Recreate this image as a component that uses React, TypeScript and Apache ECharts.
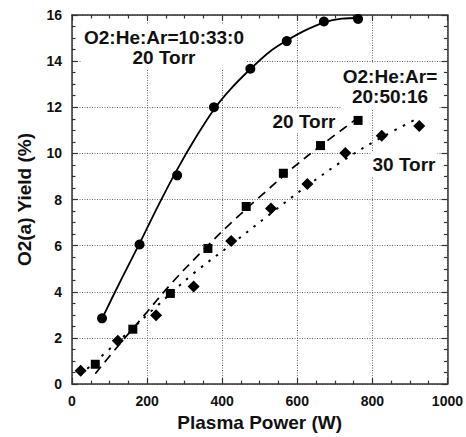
import React, { useEffect, useRef } from "react";
import * as echarts from "echarts";

// Measured points, O2:He:Ar = 10:33:0 at 20 Torr (circles)
const circlePower = [80, 180, 280, 378, 475, 572, 671, 762];
const circleYield = [2.85, 6.05, 9.05, 12.0, 13.67, 14.87, 15.72, 15.83];

// Measured points, O2:He:Ar = 20:50:16 at 20 Torr (squares)
const squarePower = [62, 162, 262, 362, 464, 563, 662, 762];
const squareYield = [0.86, 2.38, 3.93, 5.88, 7.7, 9.14, 10.34, 11.43];

// Measured points, O2:He:Ar = 20:50:16 at 30 Torr (diamonds)
const diamondPower = [23, 122, 224, 324, 424, 530, 627, 728, 825, 925];
const diamondYield = [0.58, 1.88, 2.98, 4.23, 6.2, 7.61, 8.67, 10.02, 10.77, 11.19];

// Fitted trend curves
const fitSolidPower = [80, 130, 180, 230, 280, 330, 380, 423, 476, 529, 573, 617, 672, 719, 762];
const fitSolidYield = [2.84, 4.5, 6.1, 7.75, 9.3, 10.7, 11.95, 12.8, 13.67, 14.44, 14.9, 15.3, 15.68, 15.84, 15.87];

const fitDashPower = [62, 120, 186, 265, 346, 427, 506, 590, 660, 762];
const fitDashYield = [0.45, 1.6, 2.86, 4.37, 5.75, 7.04, 8.2, 9.4, 10.3, 11.55];

const fitDotPower = [22, 123, 224, 324, 424, 530, 627, 728, 825, 915];
const fitDotYield = [0.4, 1.85, 3.35, 4.8, 6.05, 7.4, 8.6, 9.75, 10.7, 11.47];

// Axis settings
const powerMin = 0;
const powerMax = 1000;
const powerStep = 200;
const yieldMin = 0;
const yieldMax = 16;
const yieldStep = 2;

const FONT = '"Liberation Sans", Arial, Helvetica, sans-serif';
const INK = "#111";
const AXIS = "#333";

const pairs = (xs: number[], ys: number[]) => xs.map((x, i) => [x, ys[i]]);

function frameAxis(extra: any) {
  return {
    type: "value",
    axisLine: { show: true, onZero: false, lineStyle: { color: AXIS, width: 1.5 } },
    axisTick: { show: true, inside: true, length: 6, lineStyle: { color: AXIS, width: 1.2 } },
    minorTick: { show: true, splitNumber: 4, length: 3.5, lineStyle: { color: AXIS, width: 1.2 } },
    ...extra,
  };
}

const labelStyle = {
  color: INK,
  fontFamily: FONT,
  fontWeight: "bold",
  fontSize: 14,
  margin: 10,
  formatter: (v: number) => String(v),
};

const gridStyle = { show: true, lineStyle: { color: "#666", type: [1, 1.5], width: 1 } };

const noteFont = `bold 19px ${FONT}`;

function note(text: string, x: number, y: number, padding: number[]) {
  return {
    type: "text",
    z: 1,
    style: {
      text,
      x,
      y,
      font: noteFont,
      fill: INK,
      align: "center",
      verticalAlign: "middle",
      textAlign: "center",
      textVerticalAlign: "middle",
      lineHeight: 20,
      backgroundColor: "#fff",
      padding,
    },
  };
}

function fitLine(xs: number[], ys: number[], lineStyle: any) {
  return {
    type: "line",
    data: pairs(xs, ys),
    smooth: 0.35,
    showSymbol: false,
    symbol: "none",
    lineStyle: { color: "#000", ...lineStyle },
    z: 3,
  };
}

function points(xs: number[], ys: number[], symbol: string, size: number) {
  return {
    type: "scatter",
    data: pairs(xs, ys),
    symbol,
    symbolSize: size,
    itemStyle: { color: "#000", borderWidth: 0, opacity: 1 },
    z: 4,
  };
}

export default function App() {
  const ref = useRef<HTMLDivElement>(null);

  useEffect(() => {
    if (!ref.current) return;
    const chart = echarts.init(ref.current, null, { renderer: "svg" });
    chart.setOption({
      animation: false,
      backgroundColor: "#fff",
      grid: { left: 72, right: 16, top: 15, bottom: 45 },
      xAxis: [
        frameAxis({
          min: powerMin,
          max: powerMax,
          interval: powerStep,
          position: "bottom",
          splitLine: gridStyle,
          axisLabel: labelStyle,
          name: "Plasma Power (W)",
          nameLocation: "middle",
          nameGap: 27,
          nameTextStyle: { color: INK, fontFamily: FONT, fontWeight: "bold", fontSize: 19 },
        }),
        frameAxis({
          min: powerMin,
          max: powerMax,
          interval: powerStep,
          position: "top",
          splitLine: { show: false },
          axisLabel: { show: false },
        }),
      ],
      yAxis: [
        frameAxis({
          min: yieldMin,
          max: yieldMax,
          interval: yieldStep,
          position: "left",
          splitLine: gridStyle,
          axisLabel: labelStyle,
          name: "O2(a) Yield (%)",
          nameLocation: "middle",
          nameRotate: 90,
          nameGap: 38,
          nameTextStyle: { color: INK, fontFamily: FONT, fontWeight: "bold", fontSize: 19 },
        }),
        frameAxis({
          min: yieldMin,
          max: yieldMax,
          interval: yieldStep,
          position: "right",
          splitLine: { show: false },
          axisLabel: { show: false },
        }),
      ],
      graphic: [
        note("O2:He:Ar=10:33:0\n20 Torr", 164, 47, [3, 2, 3, 2]),
        note("O2:He:Ar=\n20:50:16", 390, 86, [3, 2, 3, 2]),
        note("20 Torr", 304, 121, [2, 2, 2, 2]),
        note("30 Torr", 404, 164, [3, 2, 3, 2]),
      ],
      series: [
        fitLine(fitSolidPower, fitSolidYield, { width: 1.8 }),
        fitLine(fitDashPower, fitDashYield, { width: 1.7, type: [9, 6] }),
        fitLine(fitDotPower, fitDotYield, { width: 2, type: [2.5, 7] }),
        points(circlePower, circleYield, "circle", 10),
        points(squarePower, squareYield, "rect", 9),
        points(diamondPower, diamondYield, "diamond", 12),
      ],
    });
    return () => chart.dispose();
  }, []);

  return (
    <div
      ref={ref}
      style={{ position: "fixed", left: 0, top: 0, width: 466, height: 437, background: "#fff" }}
    />
  );
}
